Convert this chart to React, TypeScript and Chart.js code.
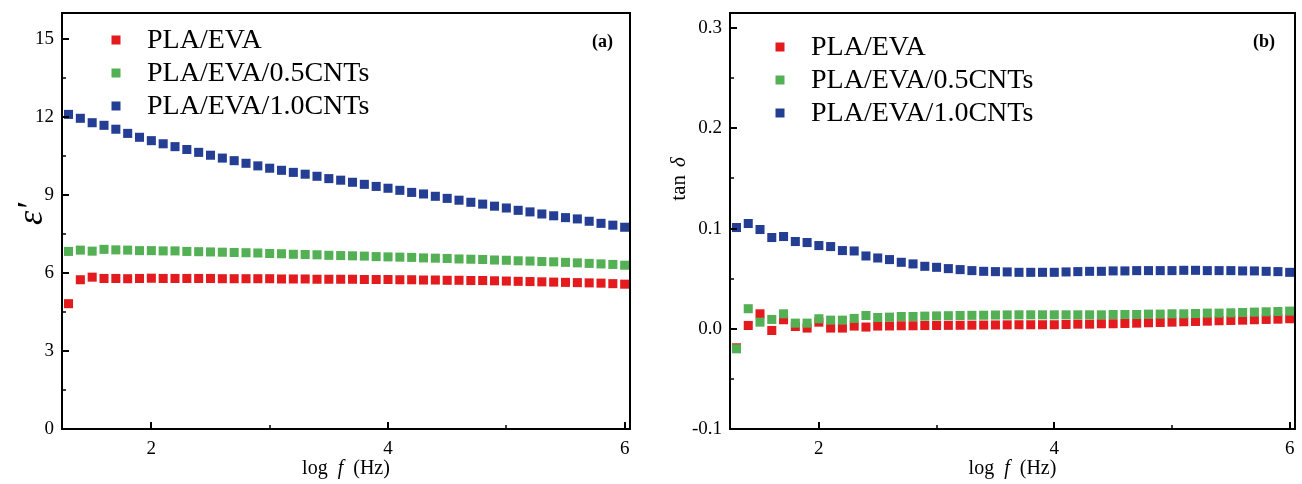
import React, { useEffect, useRef } from "react";
import { Chart, registerables } from "chart.js";

Chart.register(...registerables);

// ---------- data ----------
const logF = [
  1.3, 1.4, 1.5, 1.6, 1.7, 1.8, 1.9, 2.0, 2.1, 2.2, 2.3, 2.4, 2.5, 2.6, 2.7, 2.8,
  2.9, 3.0, 3.1, 3.2, 3.3, 3.4, 3.5, 3.6, 3.7, 3.8, 3.9, 4.0, 4.1, 4.2, 4.3, 4.4,
  4.5, 4.6, 4.7, 4.8, 4.9, 5.0, 5.1, 5.2, 5.3, 5.4, 5.5, 5.6, 5.7, 5.8, 5.9, 6.0,
];

const epsPLA = [
  4.82, 5.74, 5.84, 5.79, 5.79, 5.78, 5.79, 5.8, 5.79, 5.79,
  5.79, 5.79, 5.79, 5.78, 5.78, 5.78, 5.78, 5.78, 5.77, 5.77,
  5.77, 5.76, 5.76, 5.76, 5.76, 5.75, 5.75, 5.75, 5.74, 5.74,
  5.73, 5.73, 5.72, 5.72, 5.71, 5.71, 5.7, 5.69, 5.68, 5.67,
  5.66, 5.65, 5.64, 5.63, 5.62, 5.61, 5.59, 5.57,
];
const epsCNT05 = [
  6.83, 6.88, 6.84, 6.91, 6.89, 6.88, 6.86, 6.86, 6.85, 6.85,
  6.83, 6.82, 6.81, 6.8, 6.79, 6.78, 6.77, 6.75, 6.74, 6.72,
  6.71, 6.7, 6.68, 6.67, 6.66, 6.65, 6.63, 6.62, 6.61, 6.6,
  6.58, 6.57, 6.56, 6.54, 6.53, 6.52, 6.5, 6.49, 6.47, 6.46,
  6.44, 6.43, 6.41, 6.39, 6.37, 6.35, 6.33, 6.3,
];
const epsCNT10 = [
  12.1, 11.95, 11.78, 11.68, 11.53, 11.37, 11.22, 11.09, 10.97, 10.86,
  10.75, 10.64, 10.53, 10.42, 10.32, 10.22, 10.12, 10.03, 9.95, 9.87,
  9.8, 9.72, 9.63, 9.57, 9.49, 9.41, 9.33, 9.26, 9.18, 9.1,
  9.04, 8.95, 8.87, 8.8, 8.72, 8.65, 8.57, 8.5, 8.41, 8.35,
  8.27, 8.2, 8.13, 8.08, 7.99, 7.91, 7.84, 7.76,
];

const tanPLA = [
  -0.019, 0.0033, 0.0149, -0.0017, 0.009, 0.0023, 0.0007, 0.0066, 0.0007, 0.0007,
  0.0027, 0.0017, 0.0027, 0.0028, 0.003, 0.003, 0.0032, 0.0033, 0.0034, 0.0035,
  0.0036, 0.0037, 0.0038, 0.0039, 0.004, 0.004, 0.004, 0.004, 0.0043, 0.0046,
  0.0046, 0.005, 0.005, 0.0053, 0.0056, 0.006, 0.0063, 0.0066, 0.007, 0.0073,
  0.0076, 0.008, 0.0083, 0.0086, 0.009, 0.0093, 0.0096, 0.01,
];
const tanCNT05 = [
  -0.02, 0.02, 0.0066, 0.0093, 0.0149, 0.0056, 0.0056, 0.01, 0.0086, 0.0086,
  0.0103, 0.0132, 0.0112, 0.0116, 0.0122, 0.0122, 0.0126, 0.0128, 0.013, 0.0132,
  0.0134, 0.0135, 0.0137, 0.0138, 0.0139, 0.0139, 0.0139, 0.0139, 0.0139, 0.0139,
  0.0139, 0.0139, 0.0142, 0.0142, 0.0142, 0.0146, 0.0146, 0.0149, 0.0149, 0.0152,
  0.0156, 0.0156, 0.0159, 0.0162, 0.0166, 0.0169, 0.0172, 0.0176,
];
const tanCNT10 = [
  0.101, 0.105, 0.099, 0.091, 0.092, 0.087, 0.086, 0.083, 0.082, 0.078,
  0.0776, 0.0726, 0.0706, 0.069, 0.0663, 0.0647, 0.0623, 0.0613, 0.06, 0.059,
  0.058, 0.0573, 0.057, 0.0567, 0.0563, 0.0563, 0.0563, 0.0563, 0.0567, 0.057,
  0.0573, 0.0573, 0.0577, 0.0577, 0.058, 0.058, 0.058, 0.058, 0.0583, 0.0583,
  0.058, 0.058, 0.058, 0.0577, 0.0577, 0.0573, 0.057, 0.0563,
];

const seriesNames = ["PLA/EVA", "PLA/EVA/0.5CNTs", "PLA/EVA/1.0CNTs"];
const seriesColors = ["rgb(227,27,30)", "rgb(84,176,84)", "rgb(36,62,148)"];
const seriesOrder = [2, 1, 0];

const xTicks = [2, 4, 6];
const xMinorTicks = [3, 5];
const epsTicks = [0, 3, 6, 9, 12, 15];
const epsMinorTicks = [1.5, 4.5, 7.5, 10.5, 13.5];
const tanTicks = [-0.1, 0, 0.1, 0.2, 0.3];
const tanMinorTicks = [-0.05, 0.05, 0.15, 0.25];

const FONT = '"Liberation Serif", "Times New Roman", serif';

type Part = { t: string; italic?: boolean };

function drawParts(
  ctx: CanvasRenderingContext2D,
  parts: Part[],
  size: number,
  cx: number,
  cy: number,
  rotate: boolean,
  gap: number
) {
  ctx.save();
  ctx.translate(cx, cy);
  if (rotate) ctx.rotate(-Math.PI / 2);
  const widths = parts.map((p) => {
    ctx.font = `${p.italic ? "italic " : ""}${size}px ${FONT}`;
    return ctx.measureText(p.t).width;
  });
  const total = widths.reduce((a, b) => a + b, 0) + gap * (parts.length - 1);
  let x = -total / 2;
  ctx.fillStyle = "#000";
  ctx.textBaseline = "middle";
  ctx.textAlign = "left";
  parts.forEach((p, i) => {
    ctx.font = `${p.italic ? "italic " : ""}${size}px ${FONT}`;
    ctx.fillText(p.t, x, 0);
    x += widths[i] + gap;
  });
  ctx.restore();
}

type PanelCfg = {
  ys: number[][];
  yMin: number;
  yMax: number;
  yTicks: number[];
  yMinor: number[];
  yDecimals: number;
  yAxisWidth: number;
  padRight: number;
  yTitle: Part[];
  yTitleSize: number;
  yTitlePos: [number, number];
  yTitleGap: number;
  legendMarkerX: number;
  legendTextX: number;
  legendY0: number;
  panelLabel: string;
  panelLabelX: number;
};

function makeChart(canvas: HTMLCanvasElement, cfg: PanelCfg) {
  const overlay = {
    id: "overlay",
    afterDatasetsDraw(chart: any) {
      const { ctx, chartArea: a, scales } = chart;
      const xs = scales.x;
      const ys = scales.y;
      ctx.save();
      ctx.strokeStyle = "#000";
      ctx.lineWidth = 2;
      xTicks.forEach((v) => {
        const px = Math.round(xs.getPixelForValue(v));
        ctx.beginPath();
        ctx.moveTo(px, a.bottom);
        ctx.lineTo(px, a.bottom - 7);
        ctx.stroke();
      });
      cfg.yTicks.forEach((v) => {
        const py = Math.round(ys.getPixelForValue(v));
        ctx.beginPath();
        ctx.moveTo(a.left, py);
        ctx.lineTo(a.left + 7, py);
        ctx.stroke();
      });
      ctx.lineWidth = 1.5;
      xMinorTicks.forEach((v) => {
        const px = Math.round(xs.getPixelForValue(v));
        ctx.beginPath();
        ctx.moveTo(px, a.bottom);
        ctx.lineTo(px, a.bottom - 4);
        ctx.stroke();
      });
      cfg.yMinor.forEach((v) => {
        const py = Math.round(ys.getPixelForValue(v));
        ctx.beginPath();
        ctx.moveTo(a.left, py);
        ctx.lineTo(a.left + 4, py);
        ctx.stroke();
      });
      ctx.lineWidth = 2;
      ctx.strokeRect(a.left, a.top, a.right - a.left, a.bottom - a.top);
      ctx.restore();
    },
    afterDraw(chart: any) {
      const { ctx, chartArea: a } = chart;
      ctx.save();
      seriesNames.forEach((name, i) => {
        const y = cfg.legendY0 + i * 33;
        ctx.fillStyle = seriesColors[i];
        ctx.fillRect(cfg.legendMarkerX - 4.5, y - 4.5, 9, 9);
        ctx.fillStyle = "#000";
        ctx.font = `28px ${FONT}`;
        ctx.textBaseline = "middle";
        ctx.textAlign = "left";
        ctx.fillText(name, cfg.legendTextX, y + 1);
      });
      ctx.font = `bold 18px ${FONT}`;
      ctx.textAlign = "right";
      ctx.textBaseline = "middle";
      ctx.fillStyle = "#000";
      ctx.fillText(cfg.panelLabel, cfg.panelLabelX, 42);
      ctx.restore();
      drawParts(
        ctx,
        [{ t: "log" }, { t: "f", italic: true }, { t: "(Hz)" }],
        20,
        (a.left + a.right) / 2,
        469,
        false,
        10
      );
      drawParts(ctx, cfg.yTitle, cfg.yTitleSize, cfg.yTitlePos[0], cfg.yTitlePos[1], true, cfg.yTitleGap);
    },
  };

  const datasets = cfg.ys.map((vals, i) => ({
    label: seriesNames[i],
    data: logF.map((x, j) => ({ x, y: vals[j] })),
    backgroundColor: seriesColors[i],
    borderColor: seriesColors[i],
    borderWidth: 0,
    pointStyle: "rect",
    pointRadius: 6.4,
    showLine: false,
    order: seriesOrder[i],
  }));

  return new Chart(canvas, {
    type: "scatter",
    data: { datasets } as any,
    options: {
      responsive: false,
      animation: false,
      devicePixelRatio: 1,
      layout: { padding: { left: 0, right: cfg.padRight, top: 13, bottom: 0 } },
      plugins: { legend: { display: false }, tooltip: { enabled: false } },
      scales: {
        x: {
          type: "linear",
          min: 1.245,
          max: 6.045,
          grid: { display: false, drawTicks: false },
          border: { display: false },
          ticks: {
            color: "#000",
            font: { family: FONT, size: 19 },
            padding: 9,
            maxRotation: 0,
            callback: (v: any) => String(v),
          },
          afterBuildTicks: (s: any) => {
            s.ticks = xTicks.map((v) => ({ value: v }));
          },
          afterFit: (s: any) => {
            s.height = 55;
            s.paddingLeft = 0;
            s.paddingRight = 0;
          },
        },
        y: {
          type: "linear",
          min: cfg.yMin,
          max: cfg.yMax,
          grid: { display: false, drawTicks: false },
          border: { display: false },
          ticks: {
            color: "#000",
            font: { family: FONT, size: 19 },
            padding: 8,
            callback: (v: any) => Number(v).toFixed(cfg.yDecimals),
          },
          afterBuildTicks: (s: any) => {
            s.ticks = cfg.yTicks.map((v) => ({ value: v }));
          },
          afterFit: (s: any) => {
            s.width = cfg.yAxisWidth;
            s.paddingTop = 0;
            s.paddingBottom = 0;
          },
        },
      },
    } as any,
    plugins: [overlay],
  });
}

function Panel({ cfg, left }: { cfg: PanelCfg; left: number }) {
  const ref = useRef<HTMLCanvasElement | null>(null);
  useEffect(() => {
    if (!ref.current) return;
    const chart = makeChart(ref.current, cfg);
    return () => chart.destroy();
  }, []);
  return (
    <canvas
      ref={ref}
      width={651}
      height={484}
      style={{ position: "absolute", left, top: 0, width: 651, height: 484 }}
    />
  );
}

const leftCfg: PanelCfg = {
  ys: [epsPLA, epsCNT05, epsCNT10],
  yMin: 0,
  yMax: 16,
  yTicks: epsTicks,
  yMinor: epsMinorTicks,
  yDecimals: 0,
  yAxisWidth: 62,
  padRight: 21,
  yTitle: [{ t: "ε′", italic: true }],
  yTitleSize: 36,
  yTitlePos: [33, 214],
  yTitleGap: 0,
  legendMarkerX: 116,
  legendTextX: 147,
  legendY0: 40,
  panelLabel: "(a)",
  panelLabelX: 613,
};

const rightCfg: PanelCfg = {
  ys: [tanPLA, tanCNT05, tanCNT10],
  yMin: -0.1,
  yMax: 0.315,
  yTicks: tanTicks,
  yMinor: tanMinorTicks,
  yDecimals: 1,
  yAxisWidth: 79,
  padRight: 7,
  yTitle: [{ t: "tan" }, { t: "δ", italic: true }],
  yTitleSize: 21,
  yTitlePos: [28, 179],
  yTitleGap: 8,
  legendMarkerX: 129,
  legendTextX: 160,
  legendY0: 47,
  panelLabel: "(b)",
  panelLabelX: 624,
};

export default function App() {
  return (
    <div
      style={{
        position: "fixed",
        left: 0,
        top: 0,
        width: 1302,
        height: 484,
        background: "#fff",
        overflow: "hidden",
      }}
    >
      <Panel cfg={leftCfg} left={0} />
      <Panel cfg={rightCfg} left={651} />
    </div>
  );
}
